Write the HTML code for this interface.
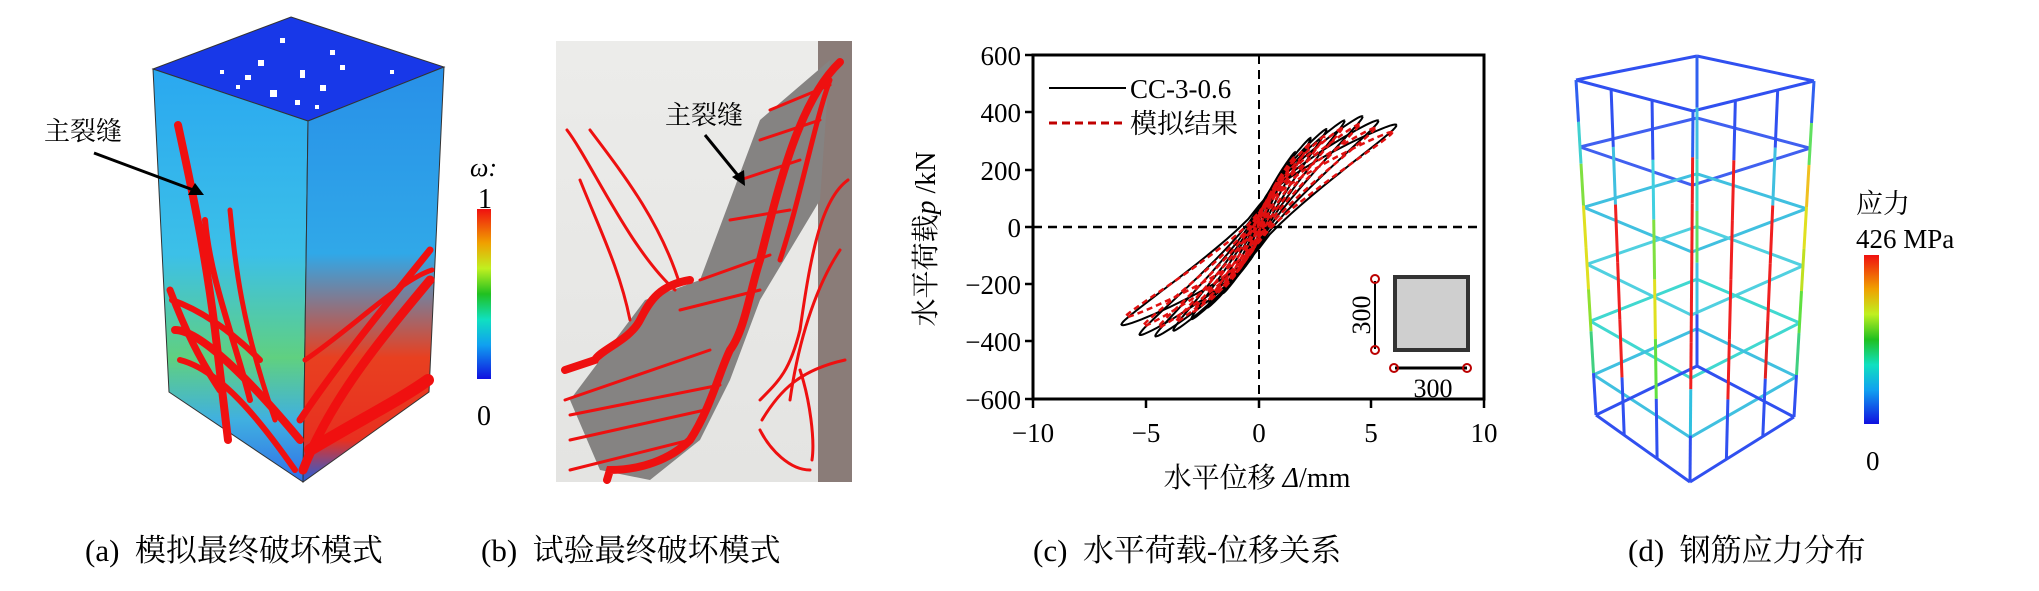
<!DOCTYPE html>
<html><head><meta charset="utf-8"><style>
html,body{margin:0;padding:0;background:#fff;}
svg text{font-family:"Liberation Serif","Noto Serif CJK SC","Noto Sans CJK SC",serif;}
</style></head><body>
<svg id="s" width="2039" height="586" viewBox="0 0 2039 586" xmlns="http://www.w3.org/2000/svg">
<defs>
<linearGradient id="lf" x1="0" y1="0" x2="0" y2="1"><stop offset="0" stop-color="#2aa8f0"/><stop offset="0.45" stop-color="#3cc0e8"/><stop offset="0.7" stop-color="#60d080"/><stop offset="0.85" stop-color="#40b0e0"/><stop offset="1" stop-color="#3070e8"/></linearGradient>
<linearGradient id="rf" x1="0" y1="0" x2="0" y2="1"><stop offset="0" stop-color="#2890e8"/><stop offset="0.45" stop-color="#30a8e8"/><stop offset="0.7" stop-color="#e84020"/><stop offset="0.9" stop-color="#e83020"/><stop offset="1" stop-color="#2060e0"/></linearGradient>
<linearGradient id="cb" x1="0" y1="1" x2="0" y2="0"><stop offset="0" stop-color="#1010e0"/><stop offset="0.2" stop-color="#10a0f0"/><stop offset="0.35" stop-color="#10e0c0"/><stop offset="0.5" stop-color="#20c020"/><stop offset="0.65" stop-color="#c0f020"/><stop offset="0.8" stop-color="#f0a000"/><stop offset="1" stop-color="#f01010"/></linearGradient>
<linearGradient id="pc" x1="0" y1="0" x2="0" y2="1"><stop offset="0" stop-color="#ececea"/><stop offset="1" stop-color="#e4e4e2"/></linearGradient>
</defs>
<!-- panel a -->
<polygon points="291,17 444,67 308,121 153,69" fill="#1838e8" stroke="#333" stroke-width="1"/>
<polygon points="153,69 308,121 303,482 169,392" fill="url(#lf)" stroke="#333" stroke-width="1"/>
<polygon points="308,121 444,67 429,392 303,482" fill="url(#rf)" stroke="#333" stroke-width="1"/>
<g fill="#fff"><rect x="280" y="38" width="5" height="5"/><rect x="258" y="60" width="6" height="6"/><rect x="300" y="70" width="5" height="8"/><rect x="245" y="75" width="6" height="5"/><rect x="320" y="85" width="6" height="6"/><rect x="270" y="90" width="7" height="7"/><rect x="220" y="70" width="4" height="4"/><rect x="340" y="65" width="5" height="5"/><rect x="295" y="100" width="5" height="5"/><rect x="236" y="85" width="4" height="4"/><rect x="390" y="70" width="4" height="4"/><rect x="330" y="50" width="5" height="5"/><rect x="315" y="105" width="4" height="4"/></g>
<g fill="none" stroke="#f01010" stroke-linecap="round">
<path d="M178,125 C190,180 205,250 215,330 L228,440" stroke-width="8"/>
<path d="M205,220 C210,280 235,340 250,400" stroke-width="6"/>
<path d="M230,210 C235,260 240,320 275,420" stroke-width="5"/>
<path d="M170,290 C185,330 200,360 220,390" stroke-width="7"/>
<path d="M303,470 C330,400 380,340 430,280" stroke-width="9"/>
<path d="M300,420 C340,360 390,300 430,250" stroke-width="7"/>
<path d="M305,360 C350,330 400,280 432,270" stroke-width="5"/>
<path d="M310,450 C360,420 400,400 428,380" stroke-width="12"/>
<path d="M175,330 C200,330 250,380 300,440" stroke-width="8"/>
<path d="M180,360 C220,370 260,420 295,470" stroke-width="6"/>
<path d="M172,300 C200,310 230,330 260,360" stroke-width="6"/>
</g>
<rect x="477" y="209" width="14" height="170" fill="url(#cb)"/>
<text x="470" y="176" font-size="26" font-style="italic">ω:</text>
<text x="478" y="208" font-size="28">1</text>
<text x="477" y="425" font-size="28">0</text>
<text x="44" y="140" font-size="26">主裂缝</text>
<line x1="94" y1="153" x2="196" y2="191" stroke="#000" stroke-width="3"/>
<polygon points="204,195 188,195 195,183" fill="#000"/>
<!-- panel b -->
<rect x="556" y="41" width="296" height="441" fill="url(#pc)"/>
<rect x="818" y="41" width="34" height="441" fill="#8a7c78"/>
<polygon points="645,300 700,280 760,120 830,60 820,200 760,300 730,380 700,440 650,480 600,470 570,400 600,360" fill="#858382"/>
<g fill="none" stroke="#ee1010" stroke-linecap="round">
<path d="M840,62 C800,100 780,180 760,260 C750,290 745,330 730,350 C720,370 710,410 690,440 C670,460 640,470 610,470 L607,480" stroke-width="8"/>
<path d="M830,80 C815,120 800,200 780,260" stroke-width="5"/>
<path d="M690,280 C660,285 650,300 640,320 C630,340 600,350 595,360 L565,370" stroke-width="8"/>
<path d="M565,400 L710,350 M570,415 L720,385 M570,440 L705,410 M570,470 L690,440 M680,310 L760,290 M700,280 L770,255 M730,220 L790,210 M740,180 L800,160 M760,140 L820,120 M770,110 L830,85" stroke-width="3"/>
<path d="M567,130 C590,160 630,250 675,290" stroke-width="3"/>
<path d="M590,130 C620,170 660,220 680,285" stroke-width="3"/>
<path d="M580,180 C600,230 620,270 630,320" stroke-width="3"/>
<path d="M848,180 C820,200 810,260 800,330 C790,370 780,380 760,400" stroke-width="3"/>
<path d="M840,250 C820,280 800,330 790,400" stroke-width="3"/>
<path d="M845,360 C800,370 780,390 762,420" stroke-width="3"/>
<path d="M800,370 C810,400 815,440 812,460" stroke-width="3"/>
<path d="M760,430 C770,450 790,470 810,470" stroke-width="3"/>
</g>
<text x="665" y="124" font-size="26">主裂缝</text>
<line x1="705" y1="135" x2="740" y2="178" stroke="#000" stroke-width="3"/>
<polygon points="745,186 732,177 744,170" fill="#000"/>
<!-- panel c -->
<g id="plot">
<line x1="1259" y1="55" x2="1259" y2="399" stroke="#000" stroke-width="2" stroke-dasharray="9,6"/>
<line x1="1033" y1="227" x2="1484" y2="227" stroke="#000" stroke-width="2.5" stroke-dasharray="9,6"/>
</g>
<rect x="1033" y="55" width="451" height="344" fill="none" stroke="#000" stroke-width="3"/>
<g stroke="#000" stroke-width="2.5">
<line x1="1033" y1="399" x2="1033" y2="408"/><line x1="1146" y1="399" x2="1146" y2="408"/><line x1="1259" y1="399" x2="1259" y2="408"/><line x1="1371" y1="399" x2="1371" y2="408"/><line x1="1484" y1="399" x2="1484" y2="408"/>
<line x1="1025" y1="55" x2="1033" y2="55"/><line x1="1025" y1="112" x2="1033" y2="112"/><line x1="1025" y1="170" x2="1033" y2="170"/><line x1="1025" y1="227" x2="1033" y2="227"/><line x1="1025" y1="284" x2="1033" y2="284"/><line x1="1025" y1="341" x2="1033" y2="341"/><line x1="1025" y1="399" x2="1033" y2="399"/>
</g>
<g font-size="27" text-anchor="end">
<text x="1021" y="65">600</text><text x="1021" y="122">400</text><text x="1021" y="180">200</text><text x="1021" y="237">0</text><text x="1021" y="294">−200</text><text x="1021" y="351">−400</text><text x="1021" y="409">−600</text>
</g>
<g font-size="27" text-anchor="middle">
<text x="1033" y="442">−10</text><text x="1146" y="442">−5</text><text x="1259" y="442">0</text><text x="1371" y="442">5</text><text x="1484" y="442">10</text>
</g>
<text x="1257" y="487" font-size="28" text-anchor="middle">水平位移 <tspan font-style="italic">Δ</tspan>/mm</text>
<text transform="translate(935,239) rotate(-90)" font-size="28" text-anchor="middle">水平荷载<tspan font-style="italic">p</tspan> /kN</text>
<line x1="1049" y1="88" x2="1126" y2="88" stroke="#000" stroke-width="2"/>
<text x="1130" y="98" font-size="27">CC-3-0.6</text>
<line x1="1049" y1="123" x2="1126" y2="123" stroke="#c00000" stroke-width="3" stroke-dasharray="8,5"/>
<text x="1130" y="133" font-size="27">模拟结果</text>
<rect x="1395" y="277" width="73" height="73" fill="#cfcfcf" stroke="#333" stroke-width="4"/>
<line x1="1375" y1="281" x2="1375" y2="349" stroke="#000" stroke-width="2"/>
<circle cx="1375" cy="279" r="4" fill="none" stroke="#b00" stroke-width="2"/><circle cx="1375" cy="350" r="4" fill="none" stroke="#b00" stroke-width="2"/>
<text transform="translate(1370,315) rotate(-90)" font-size="26" text-anchor="middle">300</text>
<line x1="1395" y1="368" x2="1467" y2="368" stroke="#000" stroke-width="3"/>
<circle cx="1394" cy="368" r="4" fill="none" stroke="#b00" stroke-width="2"/><circle cx="1467" cy="368" r="4" fill="none" stroke="#b00" stroke-width="2"/>
<text x="1433" y="397" font-size="26" text-anchor="middle">300</text>
<!-- panel d -->
<g id="cage" fill="none" stroke-width="3"></g>
<rect x="1864" y="255" width="15" height="169" fill="url(#cb)"/>
<text x="1856" y="213" font-size="27">应力</text>
<text x="1856" y="248" font-size="27">426 MPa</text>
<text x="1866" y="470" font-size="27">0</text>
<!-- captions -->
<g font-size="31">
<text x="85" y="561">(a)&#160; 模拟最终破坏模式</text>
<text x="481" y="561">(b)&#160; 试验最终破坏模式</text>
<text x="1033" y="561">(c)&#160; 水平荷载-位移关系</text>
<text x="1628" y="561">(d)&#160; 钢筋应力分布</text>
</g>
</svg>
<script>
var NS="http://www.w3.org/2000/svg";
function X(d){return 1259+d*22.55;}function Y(p){return 227-p*0.2867;}
var plot=document.getElementById('plot');
function loop(A,Pp,Pn,h,col,dash,w){
  var pts=[];
  for(var i=0;i<=80;i++){var t=i/80*2*Math.PI;var c=Math.cos(t),s=Math.sin(t);
    var d=A*c;var base=c>0?Pp*Math.pow(c,0.8):-Pn*Math.pow(-c,0.8);
    var p=base+h*s*(1-0.5*Math.abs(c));pts.push(X(d).toFixed(1)+','+Y(p).toFixed(1));}
  var e=document.createElementNS(NS,'polyline');e.setAttribute('points',pts.join(' '));
  e.setAttribute('fill','none');e.setAttribute('stroke',col);e.setAttribute('stroke-width',w);
  if(dash)e.setAttribute('stroke-dasharray',dash);plot.appendChild(e);}
var amps=[[0.6,120,110,15],[1,190,170,25],[1.6,260,230,35],[2.3,310,280,45],[3,340,320,55],[3.8,370,360,60],[4.6,385,380,65],[5.3,370,375,70],[6.1,355,340,75]];
amps.forEach(function(a){loop(a[0],a[1],a[2],a[3],'#000',null,2);});
amps.forEach(function(a){loop(a[0]*0.97,a[1]*0.93,a[2]*0.92,a[3]*0.7,'#e01010','6,4',2.5);});
var g=document.getElementById('cage');
var T={b:[1697,56],l:[1576,80],r:[1814,81],f:[1693,111]};
var B={b:[1697,366],l:[1596,415],r:[1794,417],f:[1690,482]};
function lerp(a,b,t){return [a[0]+(b[0]-a[0])*t,a[1]+(b[1]-a[1])*t];}
function ln(a,b,col){var e=document.createElementNS(NS,'line');e.setAttribute('x1',a[0]);e.setAttribute('y1',a[1]);e.setAttribute('x2',b[0]);e.setAttribute('y2',b[1]);e.setAttribute('stroke',col);e.setAttribute('stroke-width',3);g.appendChild(e);}
var hc=['#3050f0','#4060f0','#40c0e0','#50d0e0','#40d8d0','#40c0e0','#3050f0'];
var lv=[0,0.2,0.38,0.55,0.72,0.88,1];
lv.forEach(function(t,i){var q={};for(var k in T)q[k]=lerp(T[k],B[k],t);
 ln(q.l,q.f,hc[i]);ln(q.f,q.r,hc[i]);ln(q.r,q.b,hc[i]);ln(q.b,q.l,hc[i]);});
function vert(a,b,cols){var n=cols.length;for(var i=0;i<n;i++){ln(lerp(a,b,i/n),lerp(a,b,(i+1)/n),cols[i]);}}
var corner=['#3060f0','#40d0d0','#80e040','#e0e020','#e0e020','#90e030','#40d080','#3050f0'];
vert(T.l,B.l,corner);vert(T.r,B.r,['#3060f0','#60e060','#f0c020','#e0e020','#c0e020','#60e040','#40d080','#3050f0']);
vert(T.f,B.f,['#3060f0','#f02020','#f02020','#f02020','#f02020','#f02020','#30c0e0','#3050f0']);
vert(T.b,B.b,['#3060f0','#40c0e0','#40d8c0','#60e060','#40c0e0','#3050f0']);
var mids=[[0.3,'l','f',['#3050f0','#40c0e0','#f02020','#f02020','#f02020','#3050f0']],[0.65,'l','f',['#3050f0','#40d0e0','#80e040','#e0e020','#60e040','#3050f0']],[0.35,'f','r',['#3050f0','#f02020','#f02020','#f02020','#f02020','#3050f0']],[0.7,'f','r',['#3050f0','#40c0e0','#f02020','#f02020','#e02020','#3050f0']]];
mids.forEach(function(m){vert(lerp(T[m[1]],T[m[2]],m[0]),lerp(B[m[1]],B[m[2]],m[0]),m[3]);});
</script>
</body></html>
